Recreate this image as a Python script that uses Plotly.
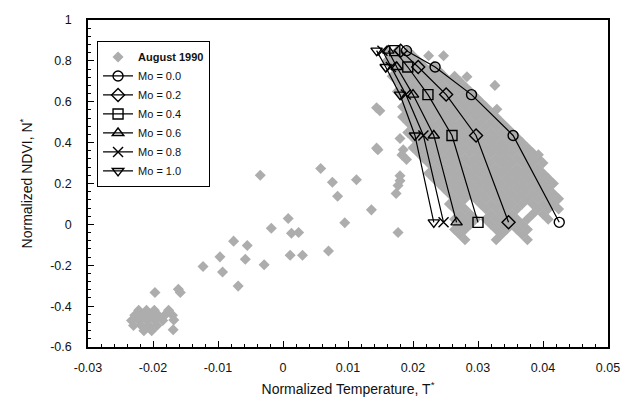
import plotly.graph_objects as go

# ---------------- data ----------------
# Model lines: normalized temperature (T*) at five NDVI levels, one list per Mo
ndvi_levels = [0.85, 0.77, 0.635, 0.435, 0.01]
mo_labels = ["Mo = 0.0", "Mo = 0.2", "Mo = 0.4", "Mo = 0.6", "Mo = 0.8", "Mo = 1.0"]
t_mo00 = [0.0190, 0.0234, 0.0290, 0.0354, 0.0425]
t_mo02 = [0.0181, 0.0208, 0.0251, 0.0297, 0.0347]
t_mo04 = [0.0172, 0.0192, 0.0223, 0.0260, 0.0300]
t_mo06 = [0.0162, 0.0175, 0.0200, 0.0232, 0.0267]
t_mo08 = [0.0153, 0.0166, 0.0189, 0.0216, 0.0247]
t_mo10 = [0.0144, 0.0158, 0.0180, 0.0203, 0.0232]

# August 1990 observations: dense band, one list of T* per NDVI row
band_rows_y = [0.85, 0.825, 0.80, 0.775, 0.75, 0.725, 0.70, 0.675, 0.65, 0.625,
               0.60, 0.575, 0.55, 0.525, 0.50, 0.475, 0.45, 0.425, 0.40, 0.375,
               0.35, 0.325, 0.30, 0.275, 0.25, 0.225, 0.20, 0.175, 0.15, 0.125,
               0.10, 0.075, 0.05, 0.025, 0.0, -0.025, -0.05, -0.075]
band_rows_x = [
    [0.0160, 0.0176, 0.0192],
    [0.0168, 0.0184, 0.0200],
    [0.0160, 0.0176, 0.0192, 0.0208],
    [0.0168, 0.0184, 0.0200, 0.0216, 0.0232],
    [0.0176, 0.0192, 0.0208, 0.0224, 0.0240],
    [0.0168, 0.0184, 0.0200, 0.0216, 0.0232, 0.0248, 0.0264],
    [0.0176, 0.0192, 0.0208, 0.0224, 0.0240, 0.0256, 0.0272],
    [0.0184, 0.0200, 0.0216, 0.0232, 0.0248, 0.0264, 0.0280],
    [0.0176, 0.0192, 0.0208, 0.0224, 0.0240, 0.0256, 0.0272, 0.0288],
    [0.0184, 0.0200, 0.0216, 0.0232, 0.0248, 0.0264, 0.0280, 0.0296],
    [0.0192, 0.0208, 0.0224, 0.0240, 0.0256, 0.0272, 0.0288, 0.0304],
    [0.0184, 0.0200, 0.0216, 0.0232, 0.0248, 0.0264, 0.0280, 0.0296, 0.0312],
    [0.0192, 0.0208, 0.0224, 0.0240, 0.0256, 0.0272, 0.0288, 0.0304, 0.0320],
    [0.0184, 0.0200, 0.0216, 0.0232, 0.0248, 0.0264, 0.0280, 0.0296, 0.0312, 0.0328],
    [0.0192, 0.0208, 0.0224, 0.0240, 0.0256, 0.0272, 0.0288, 0.0304, 0.0320, 0.0336],
    [0.0200, 0.0216, 0.0232, 0.0248, 0.0264, 0.0280, 0.0296, 0.0312, 0.0328, 0.0344],
    [0.0192, 0.0208, 0.0224, 0.0240, 0.0256, 0.0272, 0.0288, 0.0304, 0.0320, 0.0336, 0.0352],
    [0.0200, 0.0216, 0.0232, 0.0248, 0.0264, 0.0280, 0.0296, 0.0312, 0.0328, 0.0344, 0.0360],
    [0.0208, 0.0224, 0.0240, 0.0256, 0.0272, 0.0288, 0.0304, 0.0320, 0.0336, 0.0352, 0.0368],
    [0.0200, 0.0216, 0.0232, 0.0248, 0.0264, 0.0280, 0.0296, 0.0312, 0.0328, 0.0344, 0.0360, 0.0376],
    [0.0208, 0.0224, 0.0240, 0.0256, 0.0272, 0.0288, 0.0304, 0.0320, 0.0336, 0.0352, 0.0368, 0.0384],
    [0.0216, 0.0232, 0.0248, 0.0264, 0.0280, 0.0296, 0.0312, 0.0328, 0.0344, 0.0360, 0.0376, 0.0392],
    [0.0224, 0.0240, 0.0256, 0.0272, 0.0288, 0.0304, 0.0320, 0.0336, 0.0352, 0.0368, 0.0384, 0.0400],
    [0.0232, 0.0248, 0.0264, 0.0280, 0.0296, 0.0312, 0.0328, 0.0344, 0.0360, 0.0376, 0.0392],
    [0.0224, 0.0240, 0.0256, 0.0272, 0.0288, 0.0304, 0.0320, 0.0336, 0.0352, 0.0368, 0.0384, 0.0400],
    [0.0232, 0.0248, 0.0264, 0.0280, 0.0296, 0.0312, 0.0328, 0.0344, 0.0360, 0.0376, 0.0392, 0.0408],
    [0.0240, 0.0256, 0.0272, 0.0288, 0.0304, 0.0320, 0.0336, 0.0352, 0.0368, 0.0384, 0.0400, 0.0416],
    [0.0248, 0.0264, 0.0280, 0.0296, 0.0312, 0.0328, 0.0344, 0.0360, 0.0376, 0.0392, 0.0408],
    [0.0256, 0.0272, 0.0288, 0.0304, 0.0320, 0.0336, 0.0352, 0.0368, 0.0384, 0.0400, 0.0416],
    [0.0264, 0.0280, 0.0296, 0.0312, 0.0328, 0.0344, 0.0360, 0.0376, 0.0392, 0.0408, 0.0424],
    [0.0256, 0.0272, 0.0304, 0.0320, 0.0336, 0.0352, 0.0368, 0.0384, 0.0400, 0.0416],
    [0.0264, 0.0280, 0.0312, 0.0328, 0.0344, 0.0360, 0.0392, 0.0408, 0.0424],
    [0.0272, 0.0288, 0.0320, 0.0336, 0.0352, 0.0384, 0.0400],
    [0.0264, 0.0280, 0.0296, 0.0312, 0.0328, 0.0344, 0.0360, 0.0376, 0.0408],
    [0.0272, 0.0288, 0.0320, 0.0336, 0.0352, 0.0368],
    [0.0264, 0.0280, 0.0328, 0.0344, 0.0360, 0.0376],
    [0.0272, 0.0336, 0.0368],
    [0.0280, 0.0328, 0.0376],
]
# August 1990 observations: isolated points (T*, N*)
iso_x = [0.0008, -0.0018, 0.0013, 0.0024, -0.0076, -0.0055, -0.0097, -0.0058, -0.0029,
         0.0011, 0.0030, 0.0070, -0.0123, -0.0093, -0.0069, -0.0197, -0.0161, -0.0158,
         0.0180, 0.0146, 0.0185, 0.0183, 0.0190, 0.0058, 0.0076, 0.0113, 0.0084, 0.0180,
         0.0180, 0.0177, 0.0174, 0.0136, 0.0095, 0.0177, 0.0144, 0.0149, 0.0144, 0.0224,
         0.0247, 0.0283, 0.0326, 0.0329, 0.0393, 0.0377, -0.0035]
iso_y = [0.029, -0.019, -0.043, -0.040, -0.082, -0.103, -0.159, -0.171, -0.198,
         -0.151, -0.151, -0.130, -0.206, -0.233, -0.302, -0.333, -0.318, -0.333,
         0.420, 0.365, 0.365, 0.340, 0.317, 0.273, 0.206, 0.218, 0.138, 0.238,
         0.214, 0.190, 0.151, 0.071, 0.008, -0.040, 0.571, 0.556, 0.373, 0.825,
         0.825, 0.722, 0.680, 0.563, 0.341, 0.286, 0.240]
# lower-left cluster (T*, N*)
clus_x = [-0.0222, -0.0210, -0.0198, -0.0176,
          -0.0228, -0.0216, -0.0204, -0.0192, -0.0182, -0.0170,
          -0.0233, -0.0221, -0.0209, -0.0197, -0.0185, -0.0168,
          -0.0230, -0.0218, -0.0206, -0.0194,
          -0.0214, -0.0202, -0.0169]
clus_y = [-0.420, -0.420, -0.420, -0.420,
          -0.445, -0.445, -0.445, -0.445, -0.445, -0.445,
          -0.470, -0.470, -0.470, -0.470, -0.470, -0.468,
          -0.495, -0.495, -0.495, -0.495,
          -0.520, -0.520, -0.516]

x_tickvals = [-0.03, -0.02, -0.01, 0, 0.01, 0.02, 0.03, 0.04, 0.05]
x_ticktext = ["-0.03", "-0.02", "-0.01", "0", "0.01", "0.02", "0.03", "0.04", "0.05"]
y_tickvals = [-0.6, -0.4, -0.2, 0, 0.2, 0.4, 0.6, 0.8, 1]
y_ticktext = ["-0.6", "-0.4", "-0.2", "0", "0.2", "0.4", "0.6", "0.8", "1"]

# ---------------- figure ----------------
obs_x, obs_y = [], []
for yv, xs in zip(band_rows_y, band_rows_x):
    obs_x += xs
    obs_y += [yv] * len(xs)
obs_x += iso_x + clus_x
obs_y += iso_y + clus_y

FONT = "Liberation Sans, Arial, Helvetica, sans-serif"
fig = go.Figure()
fig.add_trace(go.Scatter(
    x=obs_x, y=obs_y, mode="markers", name="<b>August 1990</b>",
    marker=dict(symbol="diamond", size=8.5, color="#adadad", line=dict(width=0)),
))

symbols = ["circle-open", "diamond-open", "square-open", "triangle-up-open",
           "x-thin-open", "triangle-down-open"]
series = [t_mo00, t_mo02, t_mo04, t_mo06, t_mo08, t_mo10]
for name, sym, xs in zip(mo_labels, symbols, series):
    fig.add_trace(go.Scatter(
        x=xs, y=ndvi_levels, mode="lines+markers", name=name,
        line=dict(color="black", width=1.2),
        marker=dict(symbol=sym, size=10, color="black",
                    line=dict(width=1.4, color="black")),
    ))

axis_common = dict(
    showgrid=False, zeroline=False, showline=True, linecolor="black",
    linewidth=1.5, mirror=True, ticks="inside", ticklen=6, tickwidth=1.2,
    tickcolor="black", tickfont=dict(family=FONT, size=12.5, color="#111"),
    minor=dict(ticks="inside", ticklen=3, tickwidth=1, tickcolor="black"),
)
fig.update_xaxes(range=[-0.03, 0.05], tickvals=x_tickvals, ticktext=x_ticktext,
                 ticklabelstandoff=8,
                 title=dict(text="Normalized Temperature, T<sup>*</sup>",
                            font=dict(family=FONT, size=14, color="#111"), standoff=10),
                 **axis_common)
fig.update_xaxes(minor=dict(dtick=0.002, tick0=0))
fig.update_yaxes(range=[-0.6, 1], tickvals=y_tickvals, ticktext=y_ticktext,
                 ticklabelstandoff=12,
                 title=dict(text="Normalized NDVI, N<sup>*</sup>",
                            font=dict(family=FONT, size=14, color="#111"), standoff=14),
                 **axis_common)
fig.update_yaxes(minor=dict(dtick=0.04, tick0=0))

fig.update_layout(
    width=635, height=407,
    margin=dict(l=88, r=27, t=20, b=51),
    plot_bgcolor="white", paper_bgcolor="white",
    font=dict(family=FONT, color="#111"),
    showlegend=True,
    legend=dict(x=0.017, y=0.935, xanchor="left", yanchor="top",
                bgcolor="white", bordercolor="black", borderwidth=1.2,
                font=dict(family=FONT, size=11, color="#111"),
                tracegroupgap=0, itemwidth=30),
)
fig.write_html("out.html")
